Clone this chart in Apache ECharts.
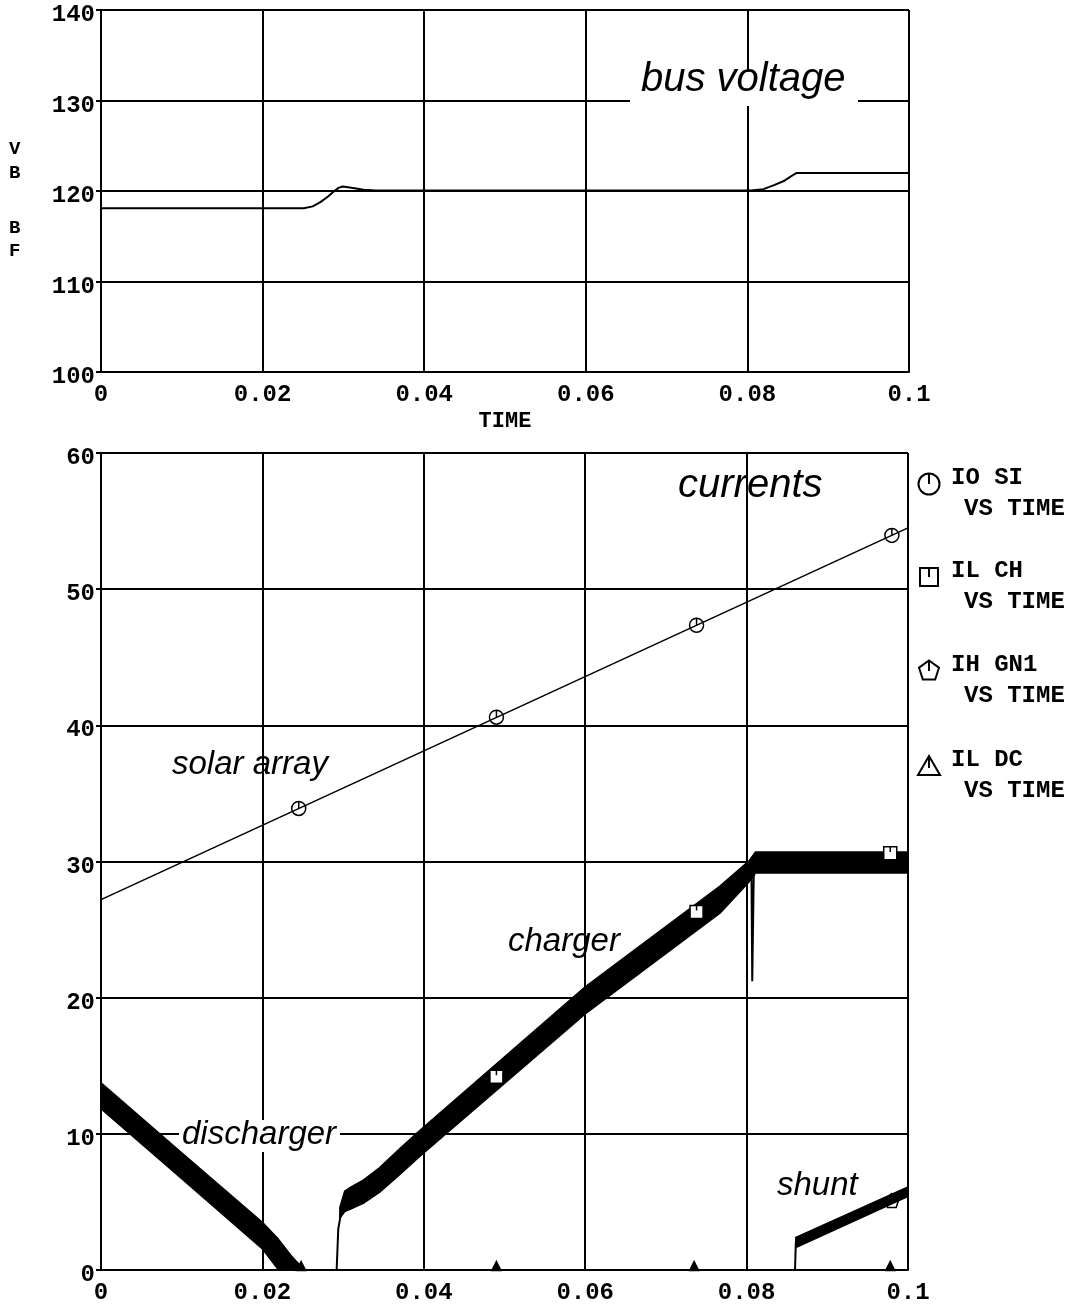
<!DOCTYPE html>
<html>
<head>
<meta charset="utf-8">
<script src="https://cdn.jsdelivr.net/npm/echarts@6/dist/echarts.min.js"></script>
<style>
  html, body { margin: 0; padding: 0; background: #fff; }
  #c { width: 1085px; height: 1306px; }
</style>
</head>
<body>
<div id="c"></div>
<script>
// ---------- Bus voltage (V) against time (s) ----------
const vbTime  = [0, 0.0251, 0.0262, 0.0272, 0.0281, 0.0288, 0.0294, 0.0299, 0.0310, 0.0325, 0.0340,
                 0.0804, 0.0820, 0.0833, 0.0845, 0.0852, 0.0858, 0.0861, 0.1];
const vbVolts = [118.1, 118.1, 118.3, 118.8, 119.4, 119.95, 120.35, 120.5, 120.35, 120.15, 120.05,
                 120.05, 120.2, 120.65, 121.1, 121.5, 121.85, 122.0, 122.0];
const bfTime  = [0, 0.1];
const bfVolts = [120, 120];

// ---------- Currents (A) against time (s) ----------
// solar array (IO SI)
const solarTime = [0, 0.1];
const solarAmps = [27.2, 54.5];
const solarMarkTime = [0.0245, 0.049, 0.0738, 0.098];
const solarMarkAmps = [33.9, 40.6, 47.35, 53.95];

// charger (IL CH): mean trace plus ripple envelope
const chTime = [0, 0.0292, 0.0294, 0.0298, 0.0305, 0.0325, 0.0345, 0.0370, 0.0396, 0.06, 0.0767, 0.0803,
                0.0806, 0.0807, 0.0809, 0.0812, 0.1];
const chAmps = [0, 0, 3.0, 4.4, 5.1, 5.75, 6.6, 8.0, 9.4, 19.8, 27.2, 29.3,
                29.4, 21.2, 29.6, 29.9, 29.9];
const chBandTime = [0.0296, 0.0302, 0.0310, 0.0325, 0.0345, 0.0370, 0.0396, 0.06, 0.0767, 0.0803, 0.0811, 0.1];
const chHigh     = [4.6, 5.8, 6.1, 6.6, 7.5, 8.9, 10.3, 20.8, 28.2, 30.05, 30.7, 30.7];
const chLow      = [3.8, 4.3, 4.5, 4.9, 5.7, 7.0, 8.4, 18.8, 26.2, 28.5, 29.15, 29.15];
const chMarkTime = [0.049, 0.0738, 0.0978];
const chMarkAmps = [14.2, 26.3, 30.6];

// shunt (IH GN1)
const shTime = [0, 0.0860, 0.0861, 0.1];
const shAmps = [0, 0, 2.05, 5.75];
const shBandTime = [0.0861, 0.1];
const shHigh     = [2.4, 6.1];
const shLow      = [1.65, 5.4];
const shMarkTime = [0.098];
const shMarkAmps = [5.1];

// discharger (IL DC)
const dcTime = [0, 0.022, 0.0235, 0.0241, 0.0253, 0.1];
const dcAmps = [12.8, 1.3, 0.6, 0.3, 0, 0];
const dcBandTime = [0, 0.01, 0.02, 0.022, 0.0235, 0.0241, 0.0253];
const dcHigh     = [13.75, 8.6, 3.5, 2.25, 1.1, 0.7, 0];
const dcLow      = [11.85, 6.7, 1.55, 0, 0, 0, 0];
const dcMarkTime = [0.0248, 0.049, 0.0735, 0.0978];
const dcMarkAmps = [0, 0, 0, 0];

// tick labels
const timeTicks = [0, 0.02, 0.04, 0.06, 0.08, 0.1];
const timeLabels = ['0', '0.02', '0.04', '0.06', '0.08', '0.1'];

// legend entries
const legendNames = ['IO SI', 'IL CH', 'IH GN1', 'IL DC'];

// ---------- helpers ----------
const ink  = '#000';
const mono = "'Liberation Mono', 'Courier New', monospace";
const sans = "'Liberation Sans', Arial, sans-serif";
const zip = (xs, ys) => xs.map((x, i) => [x, ys[i]]);

// marker outlines (each with the small tick from the top edge to the centre)
const iconCircle   = 'M1,11 A10,10 0 1,1 21,11 A10,10 0 1,1 1,11 Z M11,1 L11,11';
const iconSquare   = 'M1,1 L21,1 L21,21 L1,21 Z M11,1 L11,9';
const iconPentagon = 'M11,1 L21,8.3 L17.2,20 L4.8,20 L1,8.3 Z M11,1 L11,11';
const iconTriangle = 'M11,1 L21,20 L1,20 Z M11,1 L11,13';

function timeLabel(v) {
  const i = timeTicks.findIndex(t => Math.abs(t - v) < 1e-9);
  return i >= 0 ? timeLabels[i] : '';
}

function xAxisFor(gridIndex, extra) {
  return Object.assign({
    type: 'value', gridIndex, min: 0, max: 0.1, interval: 0.02,
    axisLine: { show: true, onZero: false, lineStyle: { color: ink, width: 2 } },
    axisTick: { show: false },
    axisLabel: { color: ink, fontFamily: mono, fontSize: 24, fontWeight: 'bold',
                 margin: 11, formatter: timeLabel },
    splitLine: { show: true, lineStyle: { color: ink, width: 2 } }
  }, extra || {});
}

function yAxisFor(gridIndex, min, max) {
  return {
    type: 'value', gridIndex, min, max, interval: 10,
    axisLine: { show: true, onZero: false, lineStyle: { color: ink, width: 2 } },
    axisTick: { show: true, length: 5, lineStyle: { color: ink, width: 2 } },
    axisLabel: { color: ink, fontFamily: mono, fontSize: 24, fontWeight: 'bold', margin: 6,
                 verticalAlign: 'top', lineHeight: 10 },
    splitLine: { show: true, lineStyle: { color: ink, width: 2 } }
  };
}

function trace(name, xi, xs, ys, width) {
  return {
    name, type: 'line', xAxisIndex: xi, yAxisIndex: xi,
    data: zip(xs, ys), showSymbol: false, symbol: 'none', animation: false,
    lineStyle: { color: ink, width: width || 2 }, z: 3
  };
}

// ripple band: filled region between the low and high envelopes
function band(name, xs, lo, hi) {
  return {
    name: name + ' ripple', type: 'custom', xAxisIndex: 1, yAxisIndex: 1,
    coordinateSystem: 'cartesian2d', animation: false, clip: true, z: 4,
    data: xs.map((t, i) => [t, lo[i], hi[i]]),
    renderItem: function (params, api) {
      if (params.dataIndex !== 0) return null;
      const upper = xs.map((t, i) => api.coord([t, hi[i]]));
      const lower = xs.map((t, i) => api.coord([t, lo[i]])).reverse();
      return {
        type: 'polygon',
        shape: { points: upper.concat(lower) },
        style: { fill: ink, stroke: ink, lineWidth: 1.5, lineJoin: 'round' }
      };
    },
    encode: { x: 0, y: [1, 2] }
  };
}

function markers(name, xs, ys, icon, size, fill, extra) {
  return Object.assign({
    name, type: 'scatter', xAxisIndex: 1, yAxisIndex: 1, data: zip(xs, ys),
    symbol: 'path://' + icon, symbolSize: size, animation: false,
    itemStyle: { color: fill, borderColor: ink, borderWidth: 1.5, opacity: 1 }, z: 6
  }, extra || {});
}

// legend glyphs built from simple shapes, centred at (cx, cy)
function legendGlyph(kind, cx, cy) {
  const st = { fill: 'none', stroke: ink, lineWidth: 2 };
  const out = [];
  const r = 10.5;
  if (kind === 0) {
    out.push({ type: 'circle', shape: { cx, cy, r }, style: st, z: 10 });
  } else if (kind === 1) {
    out.push({ type: 'rect', shape: { x: cx - 9, y: cy - 9, width: 18, height: 18 }, style: st, z: 10 });
  } else if (kind === 2) {
    const pts = [];
    for (let k = 0; k < 5; k++) {
      const a = -Math.PI / 2 + k * 2 * Math.PI / 5;
      pts.push([cx + r * Math.cos(a), cy + r * Math.sin(a)]);
    }
    out.push({ type: 'polygon', shape: { points: pts }, style: st, z: 10 });
  } else {
    out.push({ type: 'polygon', shape: { points: [[cx, cy - 10], [cx + 11, cy + 9], [cx - 11, cy + 9]] }, style: st, z: 10 });
  }
  const top = kind === 1 ? cy - 9 : cy - (kind === 3 ? 10 : r);
  out.push({ type: 'line', shape: { x1: cx, y1: top, x2: cx, y2: cy + (kind === 3 ? 2 : 0) }, style: { stroke: ink, lineWidth: 2 }, z: 10 });
  return out;
}

const chart = echarts.init(document.getElementById('c'), null, { renderer: 'canvas' });

const legendTop = [470, 563, 657, 752];

const graphics = [
  // gaps in the grid behind the in-plot captions
  { type: 'rect', shape: { x: 630, y: 72, width: 228, height: 34 }, style: { fill: '#fff' }, z: 1 },
  { type: 'rect', shape: { x: 179, y: 1120, width: 161, height: 32 }, style: { fill: '#fff' }, z: 1 },

  // captions
  { type: 'text', x: 641, y: 60, style: { text: 'bus voltage', font: `italic 40px ${sans}`, fill: ink }, z: 10 },
  { type: 'text', x: 678, y: 466, style: { text: 'currents', font: `italic 40px ${sans}`, fill: ink }, z: 10 },
  { type: 'text', x: 172, y: 748, style: { text: 'solar array', font: `italic 33px ${sans}`, fill: ink }, z: 10 },
  { type: 'text', x: 508, y: 925, style: { text: 'charger', font: `italic 33px ${sans}`, fill: ink }, z: 10 },
  { type: 'text', x: 182, y: 1118, style: { text: 'discharger', font: `italic 33px ${sans}`, fill: ink }, z: 10 },
  { type: 'text', x: 777, y: 1169, style: { text: 'shunt', font: `italic 33px ${sans}`, fill: ink }, z: 10 },

  // y-axis name of the voltage panel
  { type: 'text', x: 9, y: 137, style: { text: 'V\nB', font: `bold 19px ${mono}`, lineHeight: 24, fill: ink }, z: 10 },
  { type: 'text', x: 9, y: 217, style: { text: 'B\nF', font: `bold 19px ${mono}`, lineHeight: 23, fill: ink }, z: 10 }
];

legendNames.forEach((n, i) => {
  graphics.push(...legendGlyph(i, 929, legendTop[i] + 14));
  graphics.push({
    type: 'text', x: 951, y: legendTop[i] - 4,
    style: { text: n, font: `bold 24px ${mono}`, fill: ink }, z: 10
  });
  graphics.push({
    type: 'text', x: 964, y: legendTop[i] + 27,
    style: { text: 'VS TIME', font: `bold 24px ${mono}`, fill: ink }, z: 10
  });
});

const option = {
  backgroundColor: '#fff',
  animation: false,
  grid: [
    { left: 101, top: 10, width: 808, height: 362 },
    { left: 101, top: 453, width: 807, height: 817 }
  ],
  xAxis: [
    xAxisFor(0, { name: 'TIME', nameLocation: 'middle', nameGap: 38,
                  nameTextStyle: { color: ink, fontFamily: mono, fontSize: 22, fontWeight: 'bold' } }),
    xAxisFor(1)
  ],
  yAxis: [
    yAxisFor(0, 100, 140),
    yAxisFor(1, 0, 60)
  ],
  graphic: { elements: graphics },
  series: [
    trace('VB', 0, vbTime, vbVolts, 2),
    trace('BF', 0, bfTime, bfVolts, 2),

    trace('IO SI', 1, solarTime, solarAmps, 1.6),
    trace('IL CH', 1, chTime, chAmps, 2),
    trace('IH GN1', 1, shTime, shAmps, 2),
    trace('IL DC', 1, dcTime, dcAmps, 2),

    band('IL CH', chBandTime, chLow, chHigh),
    band('IH GN1', shBandTime, shLow, shHigh),
    band('IL DC', dcBandTime, dcLow, dcHigh),

    markers('IO SI marks', solarMarkTime, solarMarkAmps, iconCircle, 14, 'rgba(0,0,0,0)'),
    markers('IL CH marks', chMarkTime, chMarkAmps, iconSquare, 13, '#fff'),
    markers('IH GN1 marks', shMarkTime, shMarkAmps, iconPentagon, 14, 'rgba(0,0,0,0)'),
    markers('IL DC marks', dcMarkTime, dcMarkAmps, iconTriangle, [9, 9], ink,
            { symbolOffset: [0, -4] })
  ]
};

chart.setOption(option);
</script>
</body>
</html>
